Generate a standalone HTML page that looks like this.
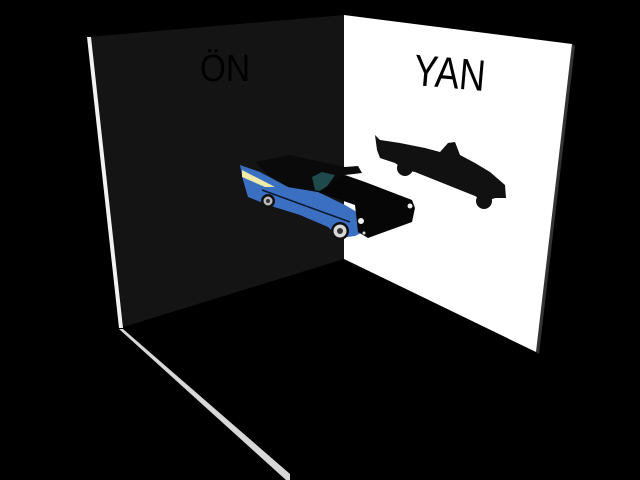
<!DOCTYPE html>
<html><head><meta charset="utf-8"><style>
html,body{margin:0;padding:0;background:#000;width:640px;height:480px;overflow:hidden}
svg{display:block}
</style></head><body>
<svg width="640" height="480" viewBox="0 0 640 480" xmlns="http://www.w3.org/2000/svg">
<rect width="640" height="480" fill="#000"/>
<polygon points="88,37 344,15 344,259 120,328" fill="#141414"/>
<polygon points="87,37 91,37 123,328 119,328" fill="#f2f2f2"/>
<polygon points="119,329 123,329 290,474 290,480 286,480" fill="#d8d8d8"/>
<polygon points="572,44 575,46 539,354 536,352" fill="#333"/>
<polygon points="344,15 572,44 536,352 344,259" fill="#fff"/>
<g transform="translate(225,0) scale(0.88,1) translate(-225,0)">
<text x="225" y="81" font-family="Liberation Sans, sans-serif" font-size="38" fill="#000" text-anchor="middle">ÖN</text>
</g>
<g transform="rotate(5 450 70) translate(450,0) scale(0.82,1) translate(-450,0)">
<text x="450" y="88" font-family="Liberation Sans, sans-serif" font-size="44" fill="#000" text-anchor="middle">YAN</text>
</g>
<!-- shadow -->
<g fill="#111">
<polygon points="375,135 380,140 400,143 425,148 440,152 448,143 455,142 460,155 475,163 490,172 505,185 506,198 495,198 485,202 475,196 440,182 415,172 405,170 395,163 380,158 377,150"/>
<circle cx="405" cy="168" r="8"/>
<circle cx="484" cy="201" r="8"/>
</g>
<!-- car blue body -->
<polygon points="240,165 260,172 288,187 318,192 345,205 362,215 363,232 355,236 340,238 328,227 300,215 268,205 248,197 243,180" fill="#3b6fc2"/>
<polygon points="242,170 275,187 265,187 242,177" fill="#f0eaa8"/>
<line x1="262" y1="190" x2="350" y2="222" stroke="#0a1a30" stroke-width="1.5"/>
<!-- top black -->
<polygon points="255,162 290,155 345,167 358,166 362,173 345,175 318,192 288,187 268,175" fill="#0a0a0a"/>
<polygon points="312,177 322,172 335,175 323,192 315,190" fill="#1e4a4c"/>
<!-- hood / front black -->
<polygon points="345,175 365,182 412,200 415,208 412,222 368,238 358,232 355,205 318,192" fill="#060606"/>
<circle cx="340" cy="231" r="9" fill="#111"/>
<circle cx="340" cy="231" r="6.5" fill="#d8d8d8"/>
<circle cx="340" cy="231" r="3" fill="#333"/>
<circle cx="268" cy="201" r="7" fill="#111"/>
<circle cx="268" cy="201" r="4.5" fill="#bbb"/>
<circle cx="268" cy="201" r="2" fill="#333"/>
<circle cx="361" cy="221" r="3" fill="#eee"/>
<circle cx="410" cy="206" r="2.5" fill="#eee"/>
<circle cx="364" cy="233" r="1.5" fill="#ddd"/>
</svg>
</body></html>
